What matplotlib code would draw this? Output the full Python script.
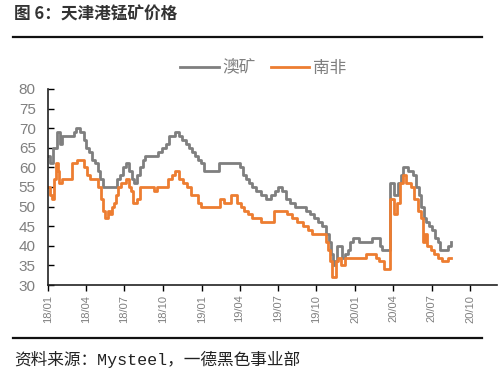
import matplotlib
matplotlib.use("Agg")
import matplotlib.pyplot as plt
import matplotlib.dates as mdates
from matplotlib.lines import Line2D
import pandas as pd

# 天津港锰矿价格 (step points)
aus_dates = [
    "2018-01-01", "2018-01-05", "2018-01-12", "2018-01-22", "2018-01-29", "2018-02-03",
    "2018-03-03", "2018-03-08", "2018-03-17", "2018-03-27", "2018-04-01", "2018-04-08",
    "2018-04-15", "2018-04-22", "2018-04-29", "2018-05-04", "2018-05-11", "2018-06-14",
    "2018-06-20", "2018-06-28", "2018-07-05", "2018-07-12", "2018-07-19", "2018-07-24",
    "2018-07-31", "2018-08-07", "2018-08-14", "2018-08-19", "2018-09-19", "2018-09-28",
    "2018-10-08", "2018-10-15", "2018-10-29", "2018-11-08", "2018-11-15", "2018-11-24",
    "2018-12-01", "2018-12-08", "2018-12-16", "2018-12-23", "2018-12-30", "2019-01-06",
    "2019-02-10", "2019-04-01", "2019-04-09", "2019-04-16", "2019-04-23", "2019-04-30",
    "2019-05-10", "2019-05-21", "2019-06-02", "2019-06-16", "2019-06-24", "2019-07-01",
    "2019-07-10", "2019-07-20", "2019-07-29", "2019-08-10", "2019-09-06", "2019-09-15",
    "2019-09-25", "2019-10-04", "2019-10-14", "2019-10-23", "2019-10-30", "2019-11-04",
    "2019-11-09", "2019-11-13", "2019-11-18", "2019-11-30", "2019-12-07", "2019-12-14",
    "2019-12-19", "2019-12-26", "2020-01-11", "2020-02-09", "2020-02-28", "2020-03-06",
    "2020-03-23", "2020-04-02", "2020-04-11", "2020-04-18", "2020-04-23", "2020-05-05",
    "2020-05-17", "2020-05-24", "2020-05-31", "2020-06-05", "2020-06-12", "2020-06-17",
    "2020-06-24", "2020-07-01", "2020-07-08", "2020-07-15", "2020-07-22", "2020-08-10",
    "2020-08-15",
]
aus_price = [
    63, 61, 65, 69, 66, 68,
    69, 70, 69, 67, 65, 64,
    62, 61, 59, 57, 55, 57,
    58, 60, 61, 59, 57, 56,
    58, 60, 62, 63, 64, 65,
    66, 68, 69, 68, 67, 66,
    65, 64, 63, 62, 61, 59,
    61, 60, 58, 57, 56, 55,
    54, 53, 52, 53, 54, 55,
    54, 52, 51, 50, 49, 48,
    47, 46, 45, 43, 41, 38,
    35, 36, 40, 37, 38, 39,
    41, 42, 41, 42, 40, 39,
    56, 53, 56, 58, 60, 59,
    58, 55, 53, 50, 47, 46,
    45, 44, 42, 41, 39, 40,
    41,
]

sa_dates = [
    "2018-01-01", "2018-01-05", "2018-01-10", "2018-01-15", "2018-01-20", "2018-01-24",
    "2018-01-27", "2018-02-03", "2018-02-26", "2018-03-10", "2018-03-27", "2018-04-03",
    "2018-04-10", "2018-04-29", "2018-05-06", "2018-05-11", "2018-05-16", "2018-05-23",
    "2018-05-28", "2018-06-01", "2018-06-06", "2018-06-11", "2018-06-16", "2018-06-23",
    "2018-07-05", "2018-07-12", "2018-07-17", "2018-07-21", "2018-07-31", "2018-08-07",
    "2018-09-09", "2018-09-16", "2018-10-12", "2018-10-22", "2018-10-29", "2018-11-08",
    "2018-11-17", "2018-11-27", "2018-12-06", "2018-12-23", "2018-12-30", "2019-02-13",
    "2019-02-23", "2019-03-11", "2019-03-25", "2019-04-04", "2019-04-11", "2019-04-21",
    "2019-04-30", "2019-05-21", "2019-06-22", "2019-07-23", "2019-08-04", "2019-08-16",
    "2019-08-30", "2019-09-11", "2019-09-20", "2019-10-23", "2019-10-28", "2019-11-02",
    "2019-11-06", "2019-11-16", "2019-11-21", "2019-11-28", "2019-12-07", "2020-01-28",
    "2020-02-19", "2020-02-26", "2020-03-09", "2020-03-23", "2020-04-02", "2020-04-09",
    "2020-04-16", "2020-04-23", "2020-04-30", "2020-05-14", "2020-05-19", "2020-05-29",
    "2020-06-05", "2020-06-10", "2020-06-14", "2020-06-19", "2020-06-29", "2020-07-06",
    "2020-07-15", "2020-07-25", "2020-08-08", "2020-08-15",
]
sa_price = [
    55, 53, 52, 57, 61, 59,
    56, 57, 61, 62, 60, 58,
    57, 55, 52, 49, 47, 49,
    48, 50, 51, 53, 55, 56,
    57, 55, 54, 51, 52, 55,
    54, 55, 57, 58, 59, 57,
    56, 55, 53, 51, 50, 52,
    51, 53, 51, 50, 49, 48,
    47, 46, 49, 48, 47, 46,
    45, 44, 43, 41, 39, 36,
    32, 36, 37, 35, 37, 38,
    37, 36, 34, 52, 48, 51,
    56, 58, 56, 55, 52, 49,
    47, 41, 43, 40, 39, 38,
    37, 36, 37, 37,
]

series_names = ["澳矿", "南非"]
series_colors = ["#7f7f7f", "#ed7d31"]

plt.rcParams["font.family"] = ["Liberation Sans", "Noto Sans CJK SC", "DejaVu Sans"]
cjk = ["Noto Sans CJK SC", "DejaVu Sans"]

fig = plt.figure(figsize=(5.0, 3.78), dpi=100)
ax = fig.add_axes([0.0966, 0.246, 0.897, 0.5186])

ax.plot(pd.to_datetime(aus_dates), aus_price, drawstyle="steps-post",
        color=series_colors[0], lw=2.0, label=series_names[0])
ax.plot(pd.to_datetime(sa_dates), sa_price, drawstyle="steps-post",
        color=series_colors[1], lw=2.0, label=series_names[1])

ax.set_ylim(30, 80)
ax.set_yticks(range(30, 81, 5))
ax.set_xlim(pd.Timestamp("2018-01-01"), pd.Timestamp("2020-12-03"))
ax.xaxis.set_major_locator(mdates.MonthLocator(bymonth=[1, 4, 7, 10]))
ax.xaxis.set_major_formatter(mdates.DateFormatter("%y/%m"))

for s in ["top", "right"]:
    ax.spines[s].set_visible(False)
for s in ["left", "bottom"]:
    ax.spines[s].set_linewidth(1.2)
    ax.spines[s].set_color("#222222")

ax.tick_params(axis="y", direction="in", length=4, width=1, pad=9,
               labelsize=11, labelcolor="#7f7f7f")
ax.tick_params(axis="x", direction="out", length=4, width=1, pad=3,
               labelsize=8, labelcolor="#7f7f7f", labelrotation=90)

# legend above plot
fig.legend(loc="center", bbox_to_anchor=(0.527, 1 - 68 / 378), ncol=2,
           frameon=False, handlelength=2.3, handletextpad=0.25,
           columnspacing=0.9, prop={"family": cjk, "size": 12},
           labelcolor="#7f7f7f")

# header / footer
fig.text(0.028, 1 - 15 / 378, "图 6：天津港锰矿价格", family=cjk, fontsize=12,
         fontweight="bold", color="#333333", va="center", ha="left")
fig.add_artist(Line2D([0.026, 0.964], [1 - 37 / 378] * 2, color="#111111", lw=1.6))
fig.add_artist(Line2D([0.026, 0.964], [1 - 338 / 378] * 2, color="#111111", lw=1.6))
fig.text(0.028, 1 - 359 / 378, "资料来源：Mysteel，一德黑色事业部",
         family=["Liberation Mono", "Noto Sans CJK SC", "DejaVu Sans"],
         fontsize=12, color="#222222", va="center", ha="left")

fig.savefig("out.png", dpi=100)
